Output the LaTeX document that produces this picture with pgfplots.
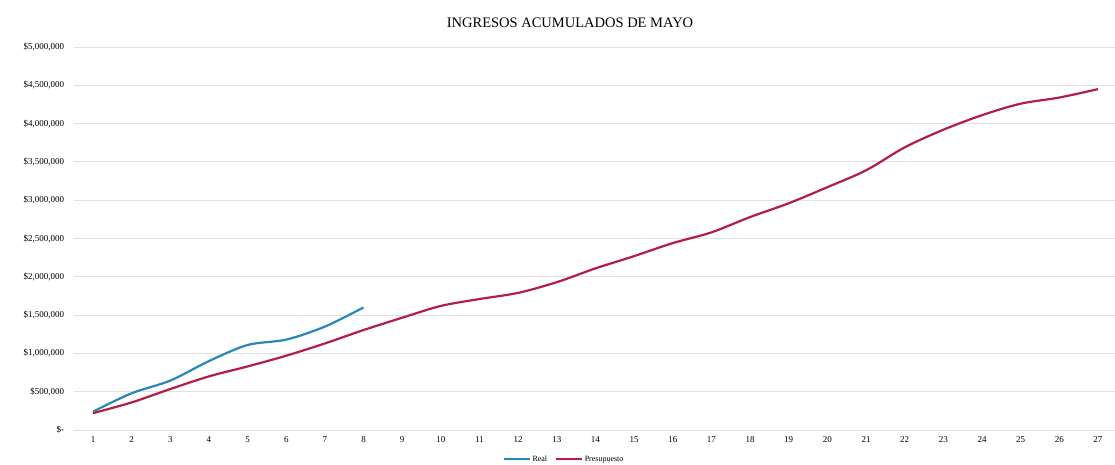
\documentclass[border=0pt]{standalone}
\usepackage{fontspec}
\setmainfont{Liberation Serif}
\usepackage{pgfplots}
\pgfplotsset{compat=1.18}
\definecolor{realblue}{RGB}{40,135,185}
\definecolor{presred}{RGB}{178,30,70}
\definecolor{gridgray}{RGB}{225,225,225}
\begin{document}
\begin{tikzpicture}
\begin{axis}[
    scale only axis,
    width=1043.6pt, height=383pt,
    xmin=0.5, xmax=27.5,
    ymin=0, ymax=5000000,
    xtick={1,...,27},
    ytick={0,500000,...,5000000},
    yticklabels={{\$-},{\$500,000},{\$1,000,000},{\$1,500,000},{\$2,000,000},{\$2,500,000},{\$3,000,000},{\$3,500,000},{\$4,000,000},{\$4,500,000},{\$5,000,000}},
    scaled y ticks=false,
    /pgf/number format/assume math mode=true,
    ymajorgrids,
    grid style={gridgray, line width=0.8pt},
    axis line style={draw=none},
    major tick length=0pt,
    tick label style={font=\fontsize{9}{10}\selectfont, black},
    yticklabel style={xshift=-6pt},
    xticklabel style={yshift=-3pt},
    title={INGRESOS ACUMULADOS DE MAYO},
    title style={at={(axis description cs:0.4756,1)}, anchor=base, yshift=13pt, font=\fontsize{14.5}{17}\selectfont},
    legend columns=2,
    legend style={draw=none, fill=none, at={(axis description cs:0.47,-0.076)}, anchor=center,
        font=\fontsize{8}{9}\selectfont, nodes={text height=1.5ex, text depth=0.3ex},
        /tikz/every even column/.append style={column sep=6pt}},
    legend image code/.code={\draw[#1, line width=2pt] (0cm,0cm) -- (0.9cm,0cm);},
]
\addplot[realblue, line width=2.2pt, smooth, tension=0.5] coordinates {
(1,240000) (2,480000) (3,645000) (4,900000) (5,1110000) (6,1180000) (7,1350000) (8,1600000)
};
\addlegendentry{Real}
\addplot[presred, line width=2.2pt, smooth, tension=0.5] coordinates {
(1,220000) (2,360000) (3,535000) (4,700000) (5,830000) (6,970000) (7,1130000) (8,1305000)
(9,1466000) (10,1620000) (11,1710000) (12,1790000) (13,1930000) (14,2110000) (15,2270000)
(16,2440000) (17,2580000) (18,2780000) (19,2960000) (20,3170000) (21,3390000) (22,3690000)
(23,3920000) (24,4110000) (25,4260000) (26,4340000) (27,4450000)
};
\addlegendentry{Presupuesto}
\end{axis}
\pgfresetboundingbox
\path[use as bounding box] (-73.7pt,-35pt) rectangle (1041.3pt,430pt);
\end{tikzpicture}
\end{document}
